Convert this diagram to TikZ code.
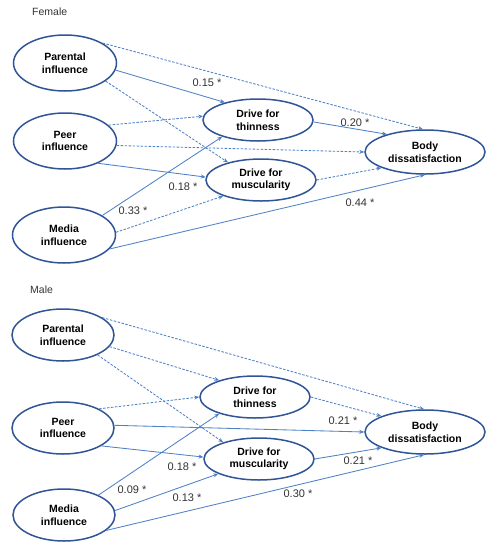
\documentclass[tikz,border=0pt]{standalone}
\usepackage{fontspec}
\setmainfont{Liberation Sans}
\usetikzlibrary{arrows.meta,shapes.geometric}
\definecolor{ellcol}{HTML}{2F5597}
\definecolor{edgecol}{HTML}{4F81C7}
\begin{document}
\begin{tikzpicture}[x=1pt,y=-1pt,
  latent/.style={ellipse,draw=ellcol,line width=1.5pt,inner sep=0pt,align=center,
    font=\fontsize{10.5}{12.5}\selectfont\bfseries},
  leftnode/.style={latent,minimum width=103pt,minimum height=56pt},
  leftnodem/.style={latent,minimum width=102pt,minimum height=52pt},
  midnode/.style={latent,minimum width=110pt,minimum height=42pt},
  bodynode/.style={latent,minimum width=120pt,minimum height=44pt},
  sig/.style={draw=edgecol,line width=0.85pt,-{Stealth[length=5pt,width=4pt]}},
  ns/.style={sig,dash pattern=on 2.5pt off 1.5pt},
  coef/.style={font=\fontsize{11}{13}\selectfont,text=black!80,inner sep=1pt},
  panel/.style={font=\fontsize{10.5}{12}\selectfont,text=black!80,inner sep=0pt}]
\useasboundingbox (0,0) rectangle (499,550);
% ---------- Female ----------
\node[panel,anchor=west] (tf) at (32,12) {Female};
\node[leftnode] (fpar) at (65,63) {Parental\\influence};
\node[leftnode] (fpeer) at (65,141) {Peer\\influence};
\node[leftnode] (fmed) at (64,235) {Media\\influence};
\node[midnode] (fthin) at (258,120) {Drive for\\thinness};
\node[midnode] (fmus) at (261,180) {Drive for\\muscularity};
\node[bodynode] (fbody) at (425,152) {Body\\dissatisfaction};
\draw[ns] (fpar.28) -- (fbody.95);
\draw[sig] (fpar.-8) -- (fthin.152);
\draw[ns] (fpar.-24) -- (fmus.152);
\draw[ns] (fpeer.20) -- (fthin.176);
\draw[ns] (fpeer.-5) -- (fbody.180);
\draw[sig] (fpeer.-34) -- (fmus.177);
\draw[sig] (fmed.27) -- (fthin.205);
\draw[ns] (fmed.3) -- (fmus.203);
\draw[sig] (fmed.-17) -- (fbody.-90);
\draw[sig] (fthin.-2) -- (fbody.155);
\draw[ns] (fmus.0) -- (fbody.200);
\node[coef] (c1) at (207,83) {0.15 *};
\node[coef] (c2) at (355,123) {0.20 *};
\node[coef] (c3) at (183,187) {0.18 *};
\node[coef] (c4) at (133,211) {0.33 *};
\node[coef] (c5) at (360,203) {0.44 *};
% ---------- Male ----------
\node[panel,anchor=west] (tm) at (30,290) {Male};
\node[leftnodem] (mpar) at (63,335) {Parental\\influence};
\node[leftnodem] (mpeer) at (63,428) {Peer\\influence};
\node[leftnodem] (mmed) at (64,515) {Media\\influence};
\node[midnode] (mthin) at (255,397) {Drive for\\thinness};
\node[midnode] (mmus) at (259,459) {Drive for\\muscularity};
\node[bodynode] (mbody) at (425,432) {Body\\dissatisfaction};
\draw[ns] (mpar.24) -- (mbody.92);
\draw[ns] (mpar.-14) -- (mthin.155);
\draw[ns] (mpar.-30) -- (mmus.155);
\draw[ns] (mpeer.28) -- (mthin.180);
\draw[sig] (mpeer.3) -- (mbody.180);
\draw[sig] (mpeer.-25) -- (mmus.178);
\draw[sig] (mmed.30) -- (mthin.205);
\draw[sig] (mmed.5) -- (mmus.200);
\draw[sig] (mmed.-20) -- (mbody.-92);
\draw[ns] (mthin.0) -- (mbody.160);
\draw[sig] (mmus.0) -- (mbody.200);
\node[coef] (d1) at (343,421) {0.21 *};
\node[coef] (d2) at (358,461) {0.21 *};
\node[coef] (d3) at (298,494) {0.30 *};
\node[coef] (d4) at (182,467) {0.18 *};
\node[coef] (d5) at (132,490) {0.09 *};
\node[coef] (d6) at (187,498) {0.13 *};
\end{tikzpicture}
\end{document}
